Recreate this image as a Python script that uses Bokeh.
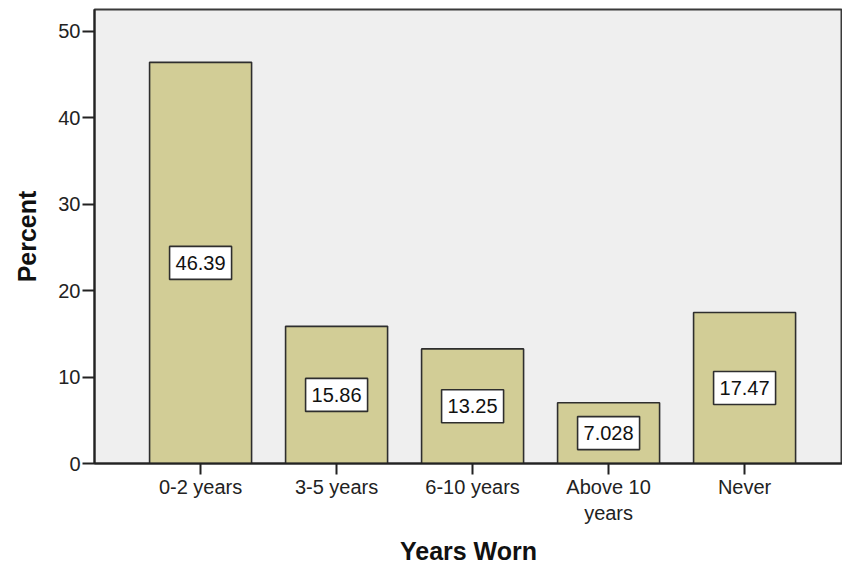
from bokeh.plotting import figure
from bokeh.models import Range1d, FixedTicker, ColumnDataSource
from bokeh.core.properties import value
from bokeh.embed import file_html
from bokeh.resources import INLINE

categories = ["0-2 years", "3-5 years", "6-10 years", "Above 10\nyears", "Never"]
percent = [46.39, 15.86, 13.25, 7.028, 17.47]
label_text = ["46.39", "15.86", "13.25", "7.028", "17.47"]
y_ticks = [0, 10, 20, 30, 40, 50]

FONT = "Liberation Sans"
xs = list(range(len(categories)))

src = ColumnDataSource(dict(
    x=xs,
    top=percent,
    mid=[v / 2 for v in percent],
    txt=label_text,
))

p = figure(width=842, height=567, output_backend="svg", toolbar_location=None,
           x_range=Range1d(-0.78, 4.72), y_range=Range1d(0, 52.5),
           min_border_left=94, min_border_right=0, min_border_top=9,
           min_border_bottom=103)
p.background_fill_color = "#EFEFEF"
p.border_fill_color = "white"
p.outline_line_color = "#3a3a3a"
p.outline_line_width = 2
p.xgrid.visible = False
p.ygrid.visible = False

p.vbar(x="x", top="top", bottom=0, width=0.75, source=src,
       fill_color="#D2CD96", line_color="#2e2e2e", line_width=1.6)

p.rect(x="x", y="mid", width=62, height=33, width_units="screen", height_units="screen",
       source=src, fill_color="white", line_color="#2e2e2e", line_width=1.6)
p.text(x="x", y="mid", text="txt", source=src, text_align="center",
       text_baseline="middle", text_font=value(FONT), text_font_size="20px",
       text_color="#111111")

p.xaxis.ticker = FixedTicker(ticks=xs)
p.xaxis.major_label_overrides = {i: c for i, c in enumerate(categories)}
p.yaxis.ticker = FixedTicker(ticks=y_ticks)

for ax in (p.xaxis, p.yaxis):
    ax.axis_line_color = "#222222"
    ax.axis_line_width = 2
    ax.major_tick_line_color = "#222222"
    ax.major_tick_line_width = 2
    ax.minor_tick_line_color = None
    ax.major_tick_in = 0
    ax.major_label_text_font = FONT
    ax.major_label_text_font_size = "20px"
    ax.major_label_text_color = "#222222"
    ax.axis_label_text_font = FONT
    ax.axis_label_text_font_style = "bold"
    ax.axis_label_text_font_size = "25px"
    ax.axis_label_text_color = "#111111"

p.xaxis.major_tick_out = 11
p.yaxis.major_tick_out = 12
p.xaxis.major_label_standoff = 1
p.yaxis.major_label_standoff = 2
p.xaxis.axis_label = "Years Worn"
p.yaxis.axis_label = "Percent"
p.xaxis.axis_label_standoff = 10
p.yaxis.axis_label_standoff = 14

open("out.html", "w").write(file_html(p, INLINE))
